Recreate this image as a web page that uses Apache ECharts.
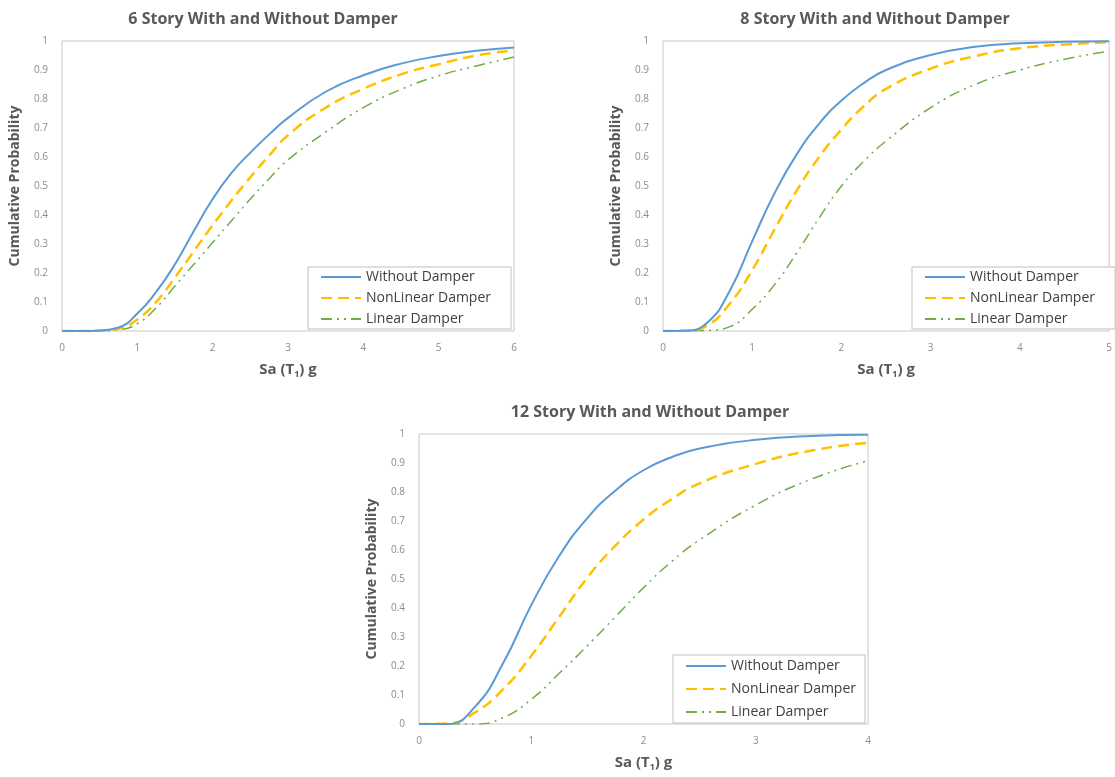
<!DOCTYPE html>
<html>
<head>
<meta charset="utf-8">
<script src="https://cdn.jsdelivr.net/npm/echarts@6/dist/echarts.min.js"></script>
<style>
  html, body { margin: 0; padding: 0; background: #fff; }
  #chart { width: 1115px; height: 777px; }
</style>
</head>
<body>
<div id="chart"></div>
<script>
// legend names
const seriesNames = ['Without Damper', 'NonLinear Damper', 'Linear Damper'];

// 6 story
const x6 = [0, 0.25, 0.5, 0.75, 1, 1.25, 1.5, 1.75, 2, 2.25, 2.5, 2.75, 3, 3.5, 4, 4.5, 5, 5.5, 6];
const blue6 = [0, 0, 0.002, 0.012, 0.06, 0.135, 0.23, 0.345, 0.455, 0.545, 0.615, 0.678, 0.735, 0.825, 0.882, 0.922, 0.948, 0.966, 0.978];
const orange6 = [0, 0, 0.001, 0.008, 0.04, 0.10, 0.185, 0.275, 0.365, 0.45, 0.53, 0.605, 0.675, 0.77, 0.835, 0.885, 0.92, 0.95, 0.968];
const green6 = [0, 0, 0, 0.004, 0.025, 0.08, 0.155, 0.23, 0.305, 0.38, 0.455, 0.525, 0.59, 0.686, 0.77, 0.833, 0.88, 0.914, 0.945];

// 8 story
const x8 = [0, 0.25, 0.5, 0.75, 1, 1.25, 1.5, 1.75, 2, 2.25, 2.5, 3, 3.5, 4, 4.5, 5];
const blue8 = [0, 0.001, 0.03, 0.14, 0.31, 0.475, 0.61, 0.715, 0.795, 0.855, 0.9, 0.952, 0.98, 0.992, 0.997, 0.999];
const orange8 = [0, 0.001, 0.02, 0.095, 0.21, 0.35, 0.485, 0.6, 0.695, 0.775, 0.835, 0.905, 0.948, 0.975, 0.988, 0.996];
const green8 = [0, 0, 0.002, 0.015, 0.075, 0.16, 0.27, 0.39, 0.5, 0.585, 0.655, 0.77, 0.85, 0.9, 0.937, 0.965];

// 12 story
const x12 = [0, 0.25, 0.5, 0.75, 1, 1.25, 1.5, 1.75, 2, 2.25, 2.5, 3, 3.5, 4];
const blue12 = [0, 0, 0.06, 0.21, 0.41, 0.58, 0.71, 0.805, 0.875, 0.92, 0.95, 0.98, 0.993, 0.997];
const orange12 = [0, 0.002, 0.04, 0.12, 0.235, 0.37, 0.505, 0.615, 0.705, 0.775, 0.83, 0.897, 0.943, 0.97];
const green12 = [0, 0, 0, 0.022, 0.085, 0.175, 0.27, 0.37, 0.47, 0.56, 0.635, 0.755, 0.845, 0.908];

const panels = [
  { title: '6 Story With and Without Damper', xs: x6, ys: [blue6, orange6, green6], xMax: 6,
    grid: { left: 62, top: 41, width: 452, height: 290 }, titlePos: { left: 258, top: 6 },
    legendPos: { left: 308, top: 267 }, legendGap: 7, legendPad: [3, 20, 3, 12] },
  { title: '8 Story With and Without Damper', xs: x8, ys: [blue8, orange8, green8], xMax: 5,
    grid: { left: 663, top: 41, width: 451, height: 290 }, titlePos: { left: 870, top: 6 },
    legendPos: { left: 912, top: 267 }, legendGap: 7, legendPad: [3, 20, 3, 12] },
  { title: '12 Story With and Without Damper', xs: x12, ys: [blue12, orange12, green12], xMax: 4,
    grid: { left: 419, top: 434, width: 449, height: 290 }, titlePos: { left: 645, top: 399 },
    legendPos: { left: 673, top: 655 }, legendGap: 9, legendPad: [4, 9, 4, 12] }
];

const colors = ['#5B9BD5', '#FFC000', '#70AD47'];
const lineStyles = [
  { width: 2, type: 'solid' },
  { width: 2.5, type: [11, 6] },
  { width: 1.5, type: [11, 5, 2, 5, 2, 5] }
];

const font = '"Open Sans", Lato, sans-serif';

const option = {
  animation: false,
  backgroundColor: '#fff',
  title: panels.map((p) => ({
    text: p.title,
    left: p.titlePos.left,
    top: p.titlePos.top,
    textAlign: 'center',
    textStyle: { fontFamily: font, fontSize: 16, fontWeight: 'bold', color: '#595959' }
  })),
  grid: panels.map((p) => Object.assign({ show: true, borderColor: '#c8c8c8', borderWidth: 1 }, p.grid)),
  legend: panels.map((p) => ({
    data: seriesNames,
    orient: 'vertical',
    left: p.legendPos.left,
    top: p.legendPos.top,
    itemWidth: 40,
    itemHeight: 14,
    itemGap: p.legendGap,
    padding: p.legendPad,
    borderColor: '#bfbfbf',
    borderWidth: 1,
    backgroundColor: '#fff',
    itemStyle: { opacity: 0 },
    textStyle: { fontFamily: font, fontSize: 14, color: '#404040' }
  })),
  xAxis: panels.map((p, i) => ({
    gridIndex: i,
    type: 'value',
    min: 0,
    max: p.xMax,
    interval: 1,
    name: 'Sa (T{sub|1}) g',
    nameLocation: 'middle',
    nameGap: 30,
    nameTextStyle: {
      fontFamily: font, fontSize: 15, fontWeight: 'bold', color: '#595959',
      rich: { sub: { fontFamily: font, fontSize: 9, fontWeight: 'bold', color: '#595959', padding: [9, 0, 0, 0] } }
    },
    axisLine: { show: false },
    axisTick: { show: false },
    splitLine: { show: false },
    axisLabel: { margin: 12, fontFamily: font, fontSize: 10, color: '#8c8c8c' }
  })),
  yAxis: panels.map((p, i) => ({
    gridIndex: i,
    type: 'value',
    min: 0,
    max: 1,
    interval: 0.1,
    name: 'Cumulative Probability',
    nameLocation: 'middle',
    nameGap: 40,
    nameTextStyle: { fontFamily: font, fontSize: 14, fontWeight: 'bold', color: '#595959' },
    axisLine: { show: false },
    axisTick: { show: false },
    splitLine: { show: false },
    axisLabel: {
      margin: 14, fontFamily: font, fontSize: 10, color: '#8c8c8c',
      formatter: (v) => String(Math.round(v * 10) / 10)
    }
  })),
  series: []
};

panels.forEach((p, gi) => {
  p.ys.forEach((vals, si) => {
    option.series.push({
      name: seriesNames[si],
      type: 'line',
      xAxisIndex: gi,
      yAxisIndex: gi,
      symbol: 'none',
      smooth: 0.5,
      data: p.xs.map((x, k) => [x, vals[k]]),
      itemStyle: { color: colors[si] },
      lineStyle: Object.assign({ color: colors[si] }, lineStyles[si]),
      z: 3 - si
    });
  });
});

const chart = echarts.init(document.getElementById('chart'), null, { renderer: 'canvas' });
chart.setOption(option);
</script>
</body>
</html>
